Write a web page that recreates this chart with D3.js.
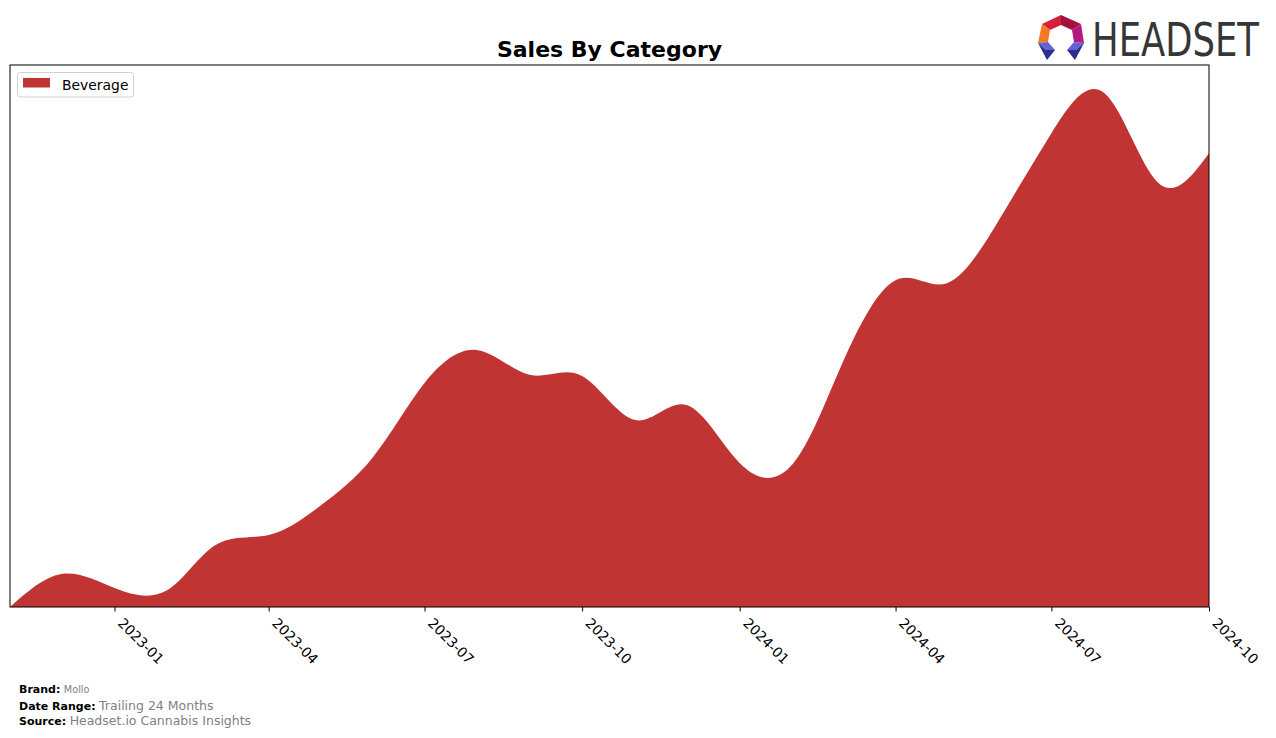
<!DOCTYPE html>
<html>
<head>
<meta charset="utf-8">
<script src="https://cdn.jsdelivr.net/npm/d3@7"></script>
<style>
  html, body { margin: 0; padding: 0; background: #fff; }
  svg { display: block; font-family: "DejaVu Sans", sans-serif; }
</style>
</head>
<body>
<svg id="chart" width="1276" height="738"></svg>
<script>
// ---- data ----
const months = ["2022-11","2022-12","2023-01","2023-02","2023-03","2023-04","2023-05","2023-06",
  "2023-07","2023-08","2023-09","2023-10","2023-11","2023-12","2024-01","2024-02","2024-03",
  "2024-04","2024-05","2024-06","2024-07","2024-08","2024-09","2024-10"];
const beverageSales = [0, 33, 19, 17, 62, 72, 101, 150, 224, 257, 232, 231, 187, 202, 144, 143,
  244, 327, 324, 389, 474, 514, 425, 454];
const tickLabels = ["2023-01","2023-04","2023-07","2023-10","2024-01","2024-04","2024-07","2024-10"];
const seriesName = "Beverage";
const title = "Sales By Category";
const footer = [
  { label: "Brand:", value: "Mollo" },
  { label: "Date Range:", value: "Trailing 24 Months" },
  { label: "Source:", value: "Headset.io Cannabis Insights" }
];

// ---- layout ----
const svg = d3.select("#chart");
const plot = { left: 10, right: 1209, top: 65, bottom: 607 };
const fill = "#c13434";
const parse = d3.timeParse("%Y-%m");
const data = months.map((m, i) => ({ date: parse(m), value: beverageSales[i] }));

const x = d3.scaleTime()
  .domain(d3.extent(data, d => d.date))
  .range([plot.left, plot.right]);
const y = d3.scaleLinear()
  .domain([0, d3.max(beverageSales) * 1.055])
  .range([plot.bottom, plot.top]);

// clip
svg.append("defs").append("clipPath").attr("id", "clip")
  .append("rect").attr("x", plot.left).attr("y", plot.top)
  .attr("width", plot.right - plot.left).attr("height", plot.bottom - plot.top);

const area = d3.area()
  .x(d => x(d.date))
  .y0(y(0))
  .y1(d => y(d.value))
  .curve(d3.curveNatural);

svg.append("path")
  .datum(data)
  .attr("clip-path", "url(#clip)")
  .attr("fill", fill)
  .attr("d", area);

// frame
svg.append("rect")
  .attr("x", plot.left).attr("y", plot.top)
  .attr("width", plot.right - plot.left).attr("height", plot.bottom - plot.top)
  .attr("fill", "none").attr("stroke", "#000").attr("stroke-width", 1);

// x axis
const tickDates = tickLabels.map(parse);
const xAxis = d3.axisBottom(x)
  .tickValues(tickDates)
  .tickFormat(d3.timeFormat("%Y-%m"))
  .tickSize(4.5)
  .tickSizeOuter(0);
const gx = svg.append("g")
  .attr("transform", `translate(0,${plot.bottom})`)
  .call(xAxis);
gx.select(".domain").remove();
gx.selectAll(".tick line").attr("stroke", "#000").attr("stroke-width", 1);
gx.selectAll(".tick text")
  .attr("font-family", "DejaVu Sans, sans-serif")
  .attr("font-size", "13.9px")
  .attr("fill", "#000")
  .attr("text-anchor", "start")
  .attr("dy", null)
  .attr("y", 0)
  .attr("transform", "translate(2,17) rotate(45)");

// title
svg.append("text")
  .attr("x", (plot.left + plot.right) / 2)
  .attr("y", 57)
  .attr("text-anchor", "middle")
  .attr("font-size", "22px")
  .attr("font-weight", "bold")
  .attr("fill", "#000")
  .text(title);

// legend
const lg = svg.append("g");
lg.append("rect")
  .attr("x", 17.5).attr("y", 72.5).attr("width", 116).attr("height", 24.5)
  .attr("rx", 3).attr("ry", 3)
  .attr("fill", "#fff").attr("fill-opacity", 0.8)
  .attr("stroke", "#d0d0d0").attr("stroke-width", 1);
lg.append("rect")
  .attr("x", 23).attr("y", 78).attr("width", 27).attr("height", 9.5)
  .attr("fill", fill);
lg.append("text")
  .attr("x", 62).attr("y", 89.5)
  .attr("font-size", "13.9px").attr("fill", "#000")
  .text(seriesName);

// footer
const fy = [693, 710, 725];
const valueSizes = ["9.7px", "12.5px", "12.5px"];
footer.forEach((f, i) => {
  const t = svg.append("text").attr("x", 19).attr("y", fy[i]);
  t.append("tspan").attr("font-size", "11px").attr("font-weight", "bold").attr("fill", "#000").text(f.label);
  t.append("tspan").attr("font-size", valueSizes[i]).attr("fill", "#808080").attr("dx", 3.5).text(f.value);
});

// logo
const logo = svg.append("g");
const pieces = [
  { c: "#d61f3c", p: [[1042,24],[1061,15],[1061,25],[1050,30]] },
  { c: "#a3123e", p: [[1061,15],[1081,24],[1072,30],[1061,25]] },
  { c: "#f47a22", p: [[1042,24],[1050,30],[1048,42],[1038,43]] },
  { c: "#b5187e", p: [[1081,24],[1084,43],[1074,42],[1072,30]] },
  { c: "#6262d6", p: [[1038,43],[1048,42],[1055,50],[1046,50]] },
  { c: "#2c2f8e", p: [[1038,43],[1046,50],[1055,50],[1047,60]] },
  { c: "#6262d6", p: [[1084,43],[1074,42],[1067,50],[1076,50]] },
  { c: "#2c2f8e", p: [[1084,43],[1076,50],[1067,50],[1075,60]] }
];
pieces.forEach(pc => {
  logo.append("polygon").attr("points", pc.p.map(q => q.join(",")).join(" ")).attr("fill", pc.c);
});
const logoText = logo.append("text")
  .attr("x", 0).attr("y", 0)
  .attr("font-family", "DejaVu Sans Condensed, Liberation Sans Narrow, DejaVu Sans, sans-serif")
  .attr("font-size", "47px")
  .attr("fill", "#363636")
  .text("HEADSET");
const natW = logoText.node().getComputedTextLength() || 167;
const sx = 167 / natW;
logoText.attr("transform", `translate(1092,56) scale(${sx},1)`);
</script>
</body>
</html>
